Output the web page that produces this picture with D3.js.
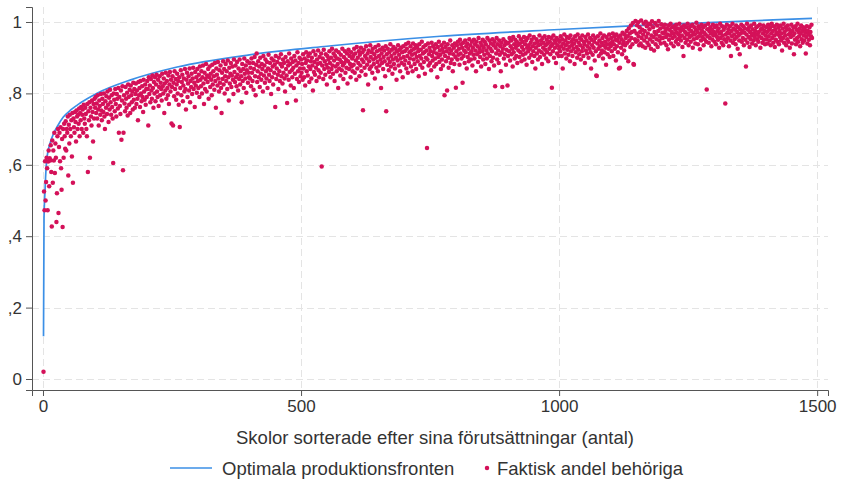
<!DOCTYPE html>
<html><head><meta charset="utf-8">
<script src="https://cdn.jsdelivr.net/npm/d3@7"></script>
<style>body{margin:0;background:#fff}svg{display:block;font-family:"Liberation Sans",Arial,sans-serif}</style>
</head><body><svg id="c" width="843" height="484"></svg>
<script>
// Tick definitions
const yTicks=[0,0.2,0.4,0.6,0.8,1];
const yTickLabels=["0",",2",",4",",6",",8","1"];
const xTicks=[0,500,1000,1500];
const xTickLabels=["0","500","1000","1500"];
const xTitle="Skolor sorterade efter sina förutsättningar (antal)";
const legendLabels=["Optimala produktionsfronten","Faktisk andel behöriga"];

// Optimal production frontier
const frontX=[1,2,3,4,5,7,10,14,20,28,39,55,72,104,170,260,400,550,770,1000,1150,1300,1490];
const frontY=[0.12,0.45,0.50,0.53,0.565,0.61,0.64,0.662,0.686,0.708,0.733,0.755,0.773,0.80,0.838,0.874,0.908,0.932,0.96,0.979,0.99,0.999,1.01];

// Actual share (per mille), schools in sorted order, 100 per segment
const seg01=[20,525,473,610,500,552,620,590,473,609,640,540,618,612,655,580,427,668,550,640,612,690,577,660,620,440,520,680,700,465,650,690,610,705,590,530,672,426,700,620,715,680,645,722,640,700,690,735,570,712,660,740,700,680,725,623,745,550,730,705,690,748,720,665,752,735,700,740,715,758,680,745,725,762,700,740,755,690,768,730,715,760,742,700,680,770,580,750,725,775,620,760,735,710,780,748,665,770,730,785];
const seg02=[760,790,745,772,730,795,755,710,780,765,740,798,752,725,785,770,748,800,735,700,778,760,792,742,805,768,720,788,755,810,775,740,795,762,730,605,800,782,750,812,770,735,798,785,758,815,690,790,765,742,808,670,780,820,585,690,795,772,750,818,785,760,802,738,825,790,768,810,745,822,795,775,805,755,830,782,812,760,798,828,770,808,785,725,832,795,815,762,835,800,778,820,790,748,838,805,782,825,768,812];
const seg03=[790,835,812,710,845,798,822,775,840,808,785,850,815,760,832,800,845,778,825,852,805,790,838,765,818,848,795,830,812,780,855,820,800,842,745,828,808,858,785,835,815,795,850,770,825,860,805,838,716,818,848,710,830,792,862,812,840,782,825,855,800,835,768,845,706,815,865,795,832,852,778,822,842,805,868,812,755,838,858,790,828,848,808,870,775,835,818,855,798,842,872,812,830,762,860,822,845,802,868,835];
const seg04=[815,852,790,875,838,820,862,800,845,878,828,770,858,812,840,882,805,850,832,868,785,845,875,818,855,838,795,880,825,862,848,810,885,835,760,870,852,822,888,842,805,865,830,878,815,745,858,840,890,825,868,800,848,882,835,862,812,892,845,780,872,828,855,885,818,850,875,838,798,895,860,832,878,845,820,888,852,808,870,840,895,825,862,848,775,882,835,868,815,898,855,842,878,802,865,890,830,858,845,885];
const seg05=[842,872,820,898,858,835,885,810,868,902,848,795,880,912,832,862,890,845,875,818,900,855,838,882,868,805,905,850,878,830,895,862,842,888,815,870,908,852,835,885,865,798,898,845,875,825,892,858,880,762,905,840,870,888,852,812,900,862,835,882,910,848,875,828,895,858,885,842,805,902,868,850,773,890,878,838,912,860,882,822,898,865,845,888,872,815,905,855,892,780,878,840,915,862,885,832,900,870,848,895];
const seg06=[858,882,838,910,870,845,898,822,885,915,862,892,850,905,875,832,912,868,890,842,900,878,808,918,860,888,852,908,872,835,895,882,920,865,845,902,885,858,912,595,878,898,840,922,868,890,852,910,880,825,905,872,895,860,918,885,845,900,868,925,878,855,912,892,835,905,875,920,862,898,882,815,915,870,895,850,908,888,865,925,878,840,902,885,918,858,895,872,912,828,890,922,868,905,882,845,915,875,898,862];
const seg07=[905,880,925,858,912,892,838,930,870,900,885,918,848,908,878,928,862,895,915,753,888,922,872,905,852,932,898,880,912,825,920,890,868,935,902,875,915,858,925,895,882,910,842,930,900,872,918,888,862,935,905,878,922,895,815,912,885,928,868,902,920,890,848,932,750,910,880,925,898,865,915,888,938,875,905,922,855,895,930,882,912,870,925,900,838,918,892,935,878,908,922,862,898,928,885,915,845,932,902,880];
const seg08=[918,892,938,870,925,905,858,942,885,915,898,932,875,920,908,862,940,895,925,882,912,935,868,902,928,890,918,848,938,905,880,922,898,945,872,912,930,888,915,855,935,900,920,647,895,940,878,910,928,885,918,865,942,905,892,932,915,875,925,898,938,882,912,845,930,902,945,888,920,908,868,935,895,925,878,915,942,795,905,930,890,918,808,938,900,872,925,912,948,885,920,895,935,862,910,928,882,940,902,816];
const seg09=[918,935,895,945,908,925,880,950,912,938,898,928,830,942,905,920,885,948,915,932,870,940,902,925,890,952,912,935,895,918,945,878,928,908,950,898,938,920,862,945,910,932,888,955,915,925,902,942,875,935,918,950,895,928,908,945,882,938,920,898,955,912,930,868,948,905,925,940,890,918,952,900,935,878,945,820,928,912,955,895,938,920,885,948,908,932,862,942,915,818,925,952,898,935,910,945,880,922,940,822];
const seg10=[905,942,918,955,892,932,948,910,925,875,958,915,938,898,950,928,905,945,885,935,920,960,902,940,915,952,890,930,945,908,922,958,895,938,912,948,880,928,955,918,935,900,962,925,942,908,950,888,932,918,958,905,940,870,928,952,912,945,895,935,920,962,902,938,948,915,882,955,928,942,908,960,922,935,898,950,915,940,890,958,925,945,910,932,955,816,938,918,962,900,948,928,942,885,955,912,935,950,905,925];
const seg11=[945,918,960,932,905,952,870,940,925,965,912,948,935,898,958,922,942,908,955,930,890,962,918,945,935,905,952,925,940,882,960,915,948,930,900,965,922,942,910,955,935,895,950,918,962,928,905,945,938,885,958,920,948,912,932,965,900,942,925,955,915,870,950,935,908,962,928,945,892,955,918,850,849,940,960,925,905,948,932,968,912,942,920,955,898,935,962,915,945,928,880,958,938,910,950,925,965,902,940,932];
const seg12=[955,918,945,968,905,938,960,925,950,892,965,932,948,915,958,870,942,872,962,928,952,910,970,938,945,920,965,935,955,900,975,942,960,890,982,948,968,930,990,955,972,938,997,882,880,975,952,1003,945,968,991,948,999,960,935,985,972,940,1004,955,978,932,965,996,948,975,928,1001,958,988,942,968,995,935,980,952,993,925,962,1002,945,985,958,920,972,997,938,965,952,990,930,975,1003,948,960,982,940,994,955,970];
const seg13=[955,985,968,942,992,975,958,935,982,965,924,990,950,978,962,995,940,972,985,955,968,932,988,960,978,945,992,970,952,982,938,965,995,958,975,948,985,962,930,978,905,990,955,972,942,985,965,950,995,968,935,980,958,988,945,975,962,992,928,970,952,985,965,940,978,998,955,972,938,988,960,982,924,968,948,992,975,958,985,935,970,952,990,965,945,811,980,960,995,942,975,955,985,968,932,978,950,992,962,972];
const seg14=[945,985,965,938,990,958,975,950,982,928,968,995,955,972,942,988,962,935,978,952,985,772,965,945,992,970,955,980,932,968,988,948,905,975,960,995,942,982,965,952,978,938,990,958,972,925,985,962,948,910,980,968,992,945,975,955,988,935,970,982,950,875,965,995,942,978,958,985,930,972,952,990,962,940,980,968,948,995,958,975,935,985,965,952,988,945,972,960,992,928,978,955,982,942,968,990,950,975,938,962];
const seg15=[985,952,972,940,992,960,978,948,985,935,968,995,955,975,942,988,962,930,980,950,970,992,945,965,985,938,975,958,990,948,968,920,982,955,995,942,972,962,985,935,978,952,990,945,965,980,928,970,958,992,940,975,962,985,910,968,950,988,938,978,955,995,945,972,960,982,932,968,990,952,975,942,985,962,948,980,970,912,958,988,940,975,965,950,985,935,972,960,992,955];

const shares=[].concat(seg01,seg02,seg03,seg04,seg05,seg06,seg07,seg08,seg09,seg10,seg11,seg12,seg13,seg14,seg15);
const points=shares.map((v,i)=>({x:i+1,y:v/1000}));
const frontier=frontX.map((v,i)=>({x:v,y:frontY[i]}));

const svg=d3.select("#c");
const x=d3.scaleLinear().domain([-21.3,1521]).range([32,828]);
const y=d3.scaleLinear().domain([-0.0308,1.042]).range([390,7]);
const FONT="'Liberation Sans',Arial,sans-serif";
const TXT="#333";

const grid=svg.append("g").attr("stroke","#e4e4e4").attr("stroke-width",1).attr("stroke-dasharray","7,4");
grid.selectAll("line.h").data(yTicks).join("line").attr("class","h")
  .attr("x1",32).attr("x2",828).attr("y1",d=>Math.round(y(d))+0.5).attr("y2",d=>Math.round(y(d))+0.5);
grid.selectAll("line.v").data(xTicks).join("line").attr("class","v")
  .attr("y1",7).attr("y2",390).attr("x1",d=>Math.round(x(d))+0.5).attr("x2",d=>Math.round(x(d))+0.5);

const line=d3.line().x(d=>x(d.x)).y(d=>y(d.y)).curve(d3.curveMonotoneX);
svg.append("path").datum(frontier).attr("d",line).attr("fill","none")
  .attr("stroke","#3b8fe6").attr("stroke-width",1.7);

svg.append("g").attr("fill","#d41159").selectAll("circle").data(points).join("circle")
  .attr("cx",d=>x(d.x)).attr("cy",d=>y(d.y)).attr("r",2.25);

const ax=svg.append("g").attr("transform","translate(0,390)")
  .call(d3.axisBottom(x).tickValues(xTicks).tickFormat((d,i)=>xTickLabels[i]).tickSizeOuter(0).tickSize(6).tickPadding(4));
const ay=svg.append("g").attr("transform","translate(32,0)")
  .call(d3.axisLeft(y).tickValues(yTicks).tickFormat((d,i)=>yTickLabels[i]).tickSizeOuter(0).tickSize(6).tickPadding(4));
[ax,ay].forEach(g=>{
  g.select(".domain").attr("stroke","#555");
  g.selectAll(".tick line").attr("stroke","#555");
  g.selectAll(".tick text").attr("fill",TXT).style("font-size","17px").style("font-family",FONT);
});

svg.append("text").attr("x",435).attr("y",444).attr("text-anchor","middle")
  .attr("fill",TXT).style("font-size","18.5px").text(xTitle);

const lg=svg.append("g").style("font-size","18.5px");
lg.append("line").attr("x1",170).attr("x2",212).attr("y1",468).attr("y2",468).attr("stroke","#3b8fe6").attr("stroke-width",1.7);
lg.append("text").attr("x",222).attr("y",474.5).attr("fill",TXT).text(legendLabels[0]);
lg.append("circle").attr("cx",487).attr("cy",468).attr("r",2.25).attr("fill","#d41159");
lg.append("text").attr("x",497).attr("y",474.5).attr("fill",TXT).text(legendLabels[1]);
</script></body></html>
